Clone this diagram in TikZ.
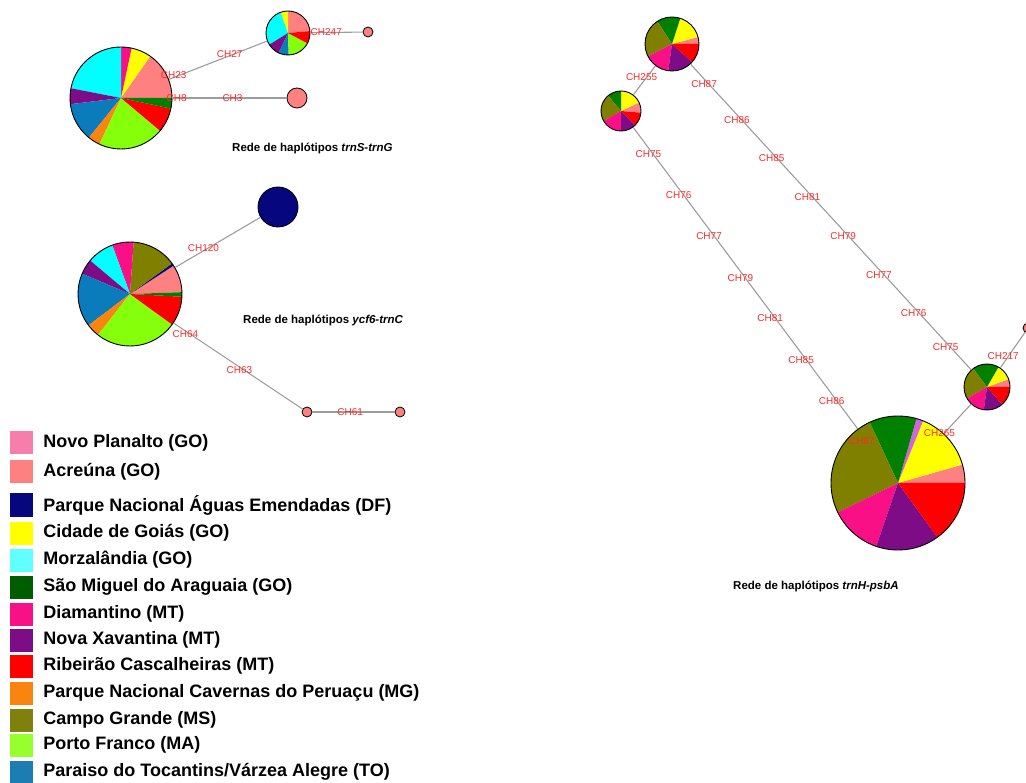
\documentclass[tikz,border=0pt]{standalone}
\usepackage{fontspec}
\setmainfont{Liberation Sans}
\usetikzlibrary{positioning}
\definecolor{novo}{HTML}{F77DAA}
\definecolor{acreuna}{HTML}{FF8080}
\definecolor{aguas}{HTML}{06067E}
\definecolor{goias}{HTML}{FFFF00}
\definecolor{morza}{HTML}{00FFFF}
\definecolor{saomiguel}{HTML}{008000}
\definecolor{diamantino}{HTML}{FA1086}
\definecolor{xavantina}{HTML}{7E0C86}
\definecolor{ribeirao}{HTML}{FF0000}
\definecolor{peruacu}{HTML}{FA8410}
\definecolor{campo}{HTML}{808000}
\definecolor{porto}{HTML}{86FF0A}
\definecolor{paraiso}{HTML}{0A7CBC}
\definecolor{orchidpie}{HTML}{D066D8}
\definecolor{edgegray}{HTML}{9C9C9C}
\definecolor{labred}{HTML}{FF2A2A}

\newcommand{\hapPie}[4]{%
  \foreach \a/\b/\c in {#4} {\fill[\c] (#2) -- ++(\a:#3) arc[start angle=\a, end angle=\b, radius=#3] -- cycle;}
  \node[hap, minimum size=2*#3] (#1) at (#2) {};
}

\begin{document}
\begin{tikzpicture}[x=1pt, y=1pt,
    hap/.style={circle, draw=black, line width=0.9pt, inner sep=0pt},
    smallhap/.style={circle, draw=black, fill=acreuna, line width=0.8pt, inner sep=0pt, minimum size=10pt},
    edge/.style={draw=edgegray, line width=1.1pt},
    lab/.style={text=labred, font=\fontsize{10}{10}\selectfont, inner sep=0pt, xshift=-5pt},
    title/.style={anchor=west, font=\bfseries\fontsize{11.5}{12}\selectfont, inner sep=0pt},
    legbox/.style={minimum size=23pt, inner sep=0pt},
    legtext/.style={font=\bfseries\fontsize{18}{20}\selectfont, inner sep=1pt}]
  \useasboundingbox (0,0) rectangle (1026,-783);

  % trnS-trnG
  \hapPie{hA}{121,-98}{51}{0/55/acreuna, 55/78/goias, 78/90/diamantino, 90/169/morza, 169/187/xavantina, 187/231/paraiso, 231/245/peruacu, 245/320/porto, 320/348/ribeirao, 348/360/saomiguel}
  \hapPie{hB}{288,-33}{22}{5/90/acreuna, 90/110/goias, 110/212/morza, 212/245/xavantina, 245/272/paraiso, 272/332/porto, 332/365/ribeirao}
  \node[smallhap] (hC) at (368,-32) {};
  \node[smallhap, minimum size=20pt] (hD) at (297,-98) {};
  \draw[edge] (hA) -- node[lab, pos=0.1] {CH23} node[lab, pos=0.67] {CH27} (hB);
  \draw[edge] (hB) -- node[lab, pos=0.4] {CH247} (hC);
  \draw[edge] (hA) -- node[lab, pos=0.08] {CH8} node[lab, pos=0.57] {CH3} (hD);
  \node[title] (tA) at (232,-148) {Rede de haplótipos \textit{trnS-trnG}};

  % ycf6-trnC
  \hapPie{hE}{130,-294}{52}{2/33/acreuna, 33/36/aguas, 36/86/campo, 86/110/diamantino, 110/140/morza, 140/157/xavantina, 157/217/paraiso, 217/232/peruacu, 232/324/porto, 324/357/ribeirao, 357/362/saomiguel}
  \node[hap, fill=aguas, minimum size=40pt] (hF) at (278,-207) {};
  \node[smallhap] (hG) at (307,-412) {};
  \node[smallhap] (hH) at (400,-412) {};
  \draw[edge] (hE) -- node[lab, pos=0.39] {CH120} (hF);
  \draw[edge] (hE) -- node[lab, pos=0.13] {CH64} node[lab, pos=0.55] {CH63} (hG);
  \draw[edge] (hG) -- node[lab, pos=0.52] {CH61} (hH);
  \node[title] (tE) at (243,-320) {Rede de haplótipos \textit{ycf6-trnC}};

  % trnH-psbA
  \hapPie{hI}{672,-44}{27}{0/15/acreuna, 15/72/goias, 72/123/saomiguel, 123/207/campo, 207/262/diamantino, 262/318/xavantina, 318/360/ribeirao}
  \hapPie{hJ}{621,-111}{20}{-5/25/acreuna, 25/90/goias, 90/130/saomiguel, 130/210/campo, 210/270/diamantino, 270/315/xavantina, 315/355/ribeirao}
  \hapPie{hK}{898,-483}{67}{0/16/acreuna, 16/68/goias, 68/74/orchidpie, 74/115/saomiguel, 115/206/campo, 206/251/diamantino, 251/306/xavantina, 306/360/ribeirao}
  \hapPie{hL}{987,-387}{23}{0/20/acreuna, 20/60/goias, 60/127/saomiguel, 127/210/campo, 210/262/diamantino, 262/311/xavantina, 311/360/ribeirao}
  \node[smallhap] (hM) at (1028,-328) {};
  \draw[edge] (hJ) -- node[lab, pos=0.6] {CH255} (hI);
  \draw[edge] (hJ) -- node[lab, pos=0.09] {CH75} node[lab, pos=0.225] {CH76} node[lab, pos=0.36] {CH77}
    node[lab, pos=0.5] {CH79} node[lab, pos=0.632] {CH81} node[lab, pos=0.77] {CH85}
    node[lab, pos=0.906] {CH86} node[lab, pos=1.04] {CH87} (hK);
  \draw[edge] (hI) -- node[lab, pos=0.066] {CH87} node[lab, pos=0.183] {CH86} node[lab, pos=0.307] {CH85}
    node[lab, pos=0.434] {CH81} node[lab, pos=0.562] {CH79} node[lab, pos=0.689] {CH77}
    node[lab, pos=0.813] {CH76} node[lab, pos=0.927] {CH75} (hL);
  \draw[edge] (hK) -- node[lab, pos=0.02] {CH265} (hL);
  \draw[edge] (hL) -- node[lab, pos=0.32] {CH217} (hM);
  \node[title] (tK) at (733,-586) {Rede de haplótipos \textit{trnH-psbA}};

  % legenda
  \foreach \y/\col/\txt in {443/novo/{Novo Planalto (GO)}, 472/acreuna/{Acreúna (GO)},
      505/aguas/{Parque Nacional Águas Emendadas (DF)}, 533/goias/{Cidade de Goiás (GO)},
      560/morza!62!white/{Morzalândia (GO)}, 587/saomiguel!72!black/{São Miguel do Araguaia (GO)},
      614/diamantino/{Diamantino (MT)}, 640/xavantina/{Nova Xavantina (MT)},
      666/ribeirao/{Ribeirão Cascalheiras (MT)}, 693/peruacu/{Parque Nacional Cavernas do Peruaçu (MG)},
      720/campo!90!gray/{Campo Grande (MS)}, 745/porto!85!white/{Porto Franco (MA)},
      772/paraiso!85!gray/{Paraiso do Tocantins/Várzea Alegre (TO)}} {
    \node[legbox, fill=\col] (sq\y) at (21.5,-\y) {};
    \node[legtext, right=9pt of sq\y] (tx\y) {\txt};
  }
\end{tikzpicture}
\end{document}
